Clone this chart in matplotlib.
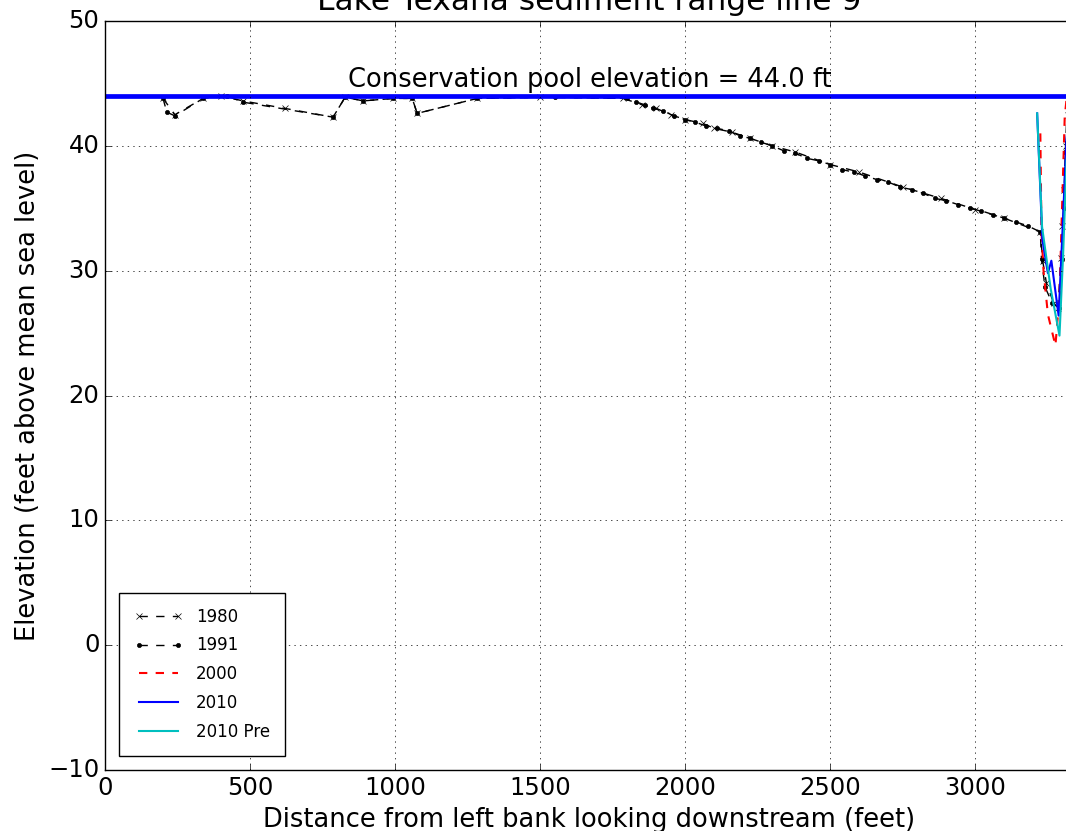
import matplotlib
matplotlib.use("Agg")
import matplotlib.pyplot as plt

plt.style.use("classic")

# perfiles (distancia en pies, elevacion en pies)
x_1980 = [200, 241, 338, 400, 476, 620, 786, 828, 890, 993, 1059, 1076, 1283,
          1500, 1786, 1850, 1900, 1950, 2000, 2060, 2100, 2160, 2224, 2300,
          2380, 2500, 2600, 2750, 2880, 3000, 3100, 3224, 3232, 3245, 3270,
          3285, 3295, 3300, 3305, 3312, 3320, 3335]
y_1980 = [43.8, 42.5, 43.8, 44.0, 43.6, 43.0, 42.3, 43.9, 43.6, 43.8, 43.8,
          42.6, 43.8, 43.9, 43.8, 43.3, 43.0, 42.5, 42.1, 41.8, 41.4, 41.1,
          40.6, 40.0, 39.5, 38.5, 37.9, 36.7, 35.8, 34.9, 34.2, 33.1, 30.8,
          29.0, 27.4, 27.0, 31.0, 33.6, 36.5, 40.0, 42.5, 44.0]

x_1991 = [200, 213, 241, 338, 420, 476, 786, 828, 890, 993, 1059, 1076, 1283,
          1550, 1800, 1830, 1860, 1890, 1925, 1960, 2000, 2035, 2070, 2110,
          2150, 2190, 2224, 2260, 2300, 2340, 2380, 2420, 2460, 2500, 2540,
          2580, 2620, 2660, 2700, 2740, 2780, 2820, 2860, 2900, 2940, 2980,
          3020, 3060, 3100, 3140, 3180, 3224, 3228, 3240, 3265, 3290, 3298,
          3304, 3310, 3318, 3335]
y_1991 = [43.8, 42.7, 42.4, 43.8, 44.0, 43.5, 42.3, 43.9, 43.6, 43.8, 43.8,
          42.6, 43.8, 43.9, 43.8, 43.5, 43.3, 43.0, 42.8, 42.4, 42.1, 41.9,
          41.6, 41.4, 41.2, 40.8, 40.6, 40.3, 40.0, 39.6, 39.4, 39.0, 38.8,
          38.5, 38.1, 37.9, 37.6, 37.3, 37.1, 36.7, 36.5, 36.2, 35.8, 35.6,
          35.3, 35.0, 34.8, 34.5, 34.2, 33.9, 33.6, 33.1, 30.9, 28.7, 27.4,
          27.0, 30.9, 35.0, 39.5, 43.9, 44.2]

x_2000 = [3224, 3228, 3235, 3250, 3276, 3290, 3300, 3308, 3315, 3340]
y_2000 = [41.0, 33.0, 30.0, 26.5, 24.0, 28.0, 36.0, 42.3, 43.9, 44.5]

x_2010 = [3213, 3231, 3250, 3262, 3287, 3300, 3314, 3330]
y_2010 = [42.6, 32.5, 29.8, 30.8, 26.4, 33.0, 40.5, 44.5]

x_2010pre = [3213, 3230, 3260, 3290, 3302, 3314, 3330]
y_2010pre = [42.6, 33.5, 28.5, 24.8, 31.0, 38.6, 44.5]

nivel_conservacion = 44.0
x_max = 3340

fig = plt.figure(figsize=(10.66, 8.31), dpi=100)
fig.patch.set_facecolor("white")
ax = fig.add_axes([0.0985, 0.0734, 0.909, 0.9013])

ax.plot(x_1980, y_1980, "k--", marker="x", markersize=4, label="1980")
ax.plot(x_1991, y_1991, "k--", marker="o", markersize=3, label="1991")
ax.plot(x_2000, y_2000, "r--", lw=1.5, label="2000")
ax.plot(x_2010, y_2010, "b-", lw=1.5, label="2010")
ax.plot(x_2010pre, y_2010pre, "c-", lw=1.5, label="2010 Pre")

ax.axhline(nivel_conservacion, color="b", lw=3.4)
ax.text(x_max / 2, nivel_conservacion + 0.7,
        "Conservation pool elevation = %.1f ft" % nivel_conservacion,
        ha="center", va="baseline", fontsize=18.5)

ax.set_xlim(0, x_max)
ax.set_ylim(-10, 50)
ax.set_xticks(range(0, 3001, 500))
ax.set_yticks(range(-10, 51, 10))
ax.tick_params(labelsize=17.5)
ax.set_title("Lake Texana sediment range line 9", fontsize=22.5, pad=8)
ax.set_xlabel("Distance from left bank looking downstream (feet)", fontsize=18.5)
ax.set_ylabel("Elevation (feet above mean sea level)", fontsize=18.5)
ax.grid(True)
ax.legend(loc="lower left", prop={"size": 12}, handlelength=2.9,
          borderaxespad=0.85, borderpad=0.9, labelspacing=0.65)

fig.savefig("out.png", dpi=100, facecolor="white")
